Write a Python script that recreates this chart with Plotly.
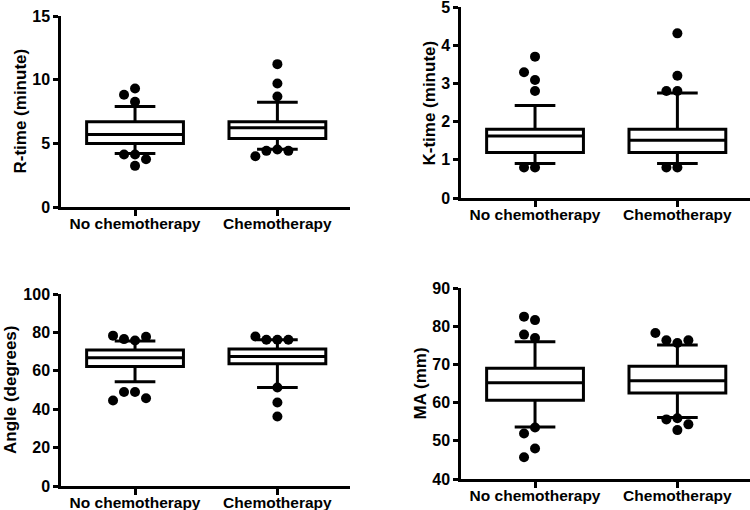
import math
import plotly.graph_objects as go

W, H = 750, 510

groups = ["No chemotherapy", "Chemotherapy"]

# R-time (minute)
r_q1 = [4.98, 5.38]
r_med = [5.69, 6.22]
r_q3 = [6.69, 6.69]
r_lo = [4.20, 4.54]
r_hi = [7.89, 8.23]
r_out_no = [8.81, 9.31, 8.26, 4.12, 3.75, 4.12, 3.23]
r_out_ch = [11.22, 9.70, 8.68, 4.41, 3.99, 4.41, 4.51]

# K-time (minute)
k_q1 = [1.19, 1.19]
k_med = [1.62, 1.51]
k_q3 = [1.80, 1.80]
k_lo = [0.90, 0.90]
k_hi = [2.42, 2.75]
k_out_no = [3.70, 3.29, 3.09, 2.80, 0.80, 0.80]
k_out_ch = [4.31, 3.20, 2.80, 2.80, 0.80, 0.80]

# Angle (degrees)
a_q1 = [62.3, 63.7]
a_med = [66.8, 67.5]
a_q3 = [70.8, 71.3]
a_lo = [54.3, 51.3]
a_hi = [75.5, 76.2]
a_out_no = [78.3, 76.5, 75.8, 77.7, 49.0, 49.0, 44.5, 45.7]
a_out_ch = [77.9, 76.2, 76.2, 76.2, 51.3, 43.5, 36.2]

# MA (mm)
m_q1 = [60.6, 62.5]
m_med = [65.2, 65.7]
m_q3 = [69.0, 69.5]
m_lo = [53.6, 56.1]
m_hi = [75.9, 75.1]
m_out_no = [82.5, 81.6, 76.9, 77.8, 53.5, 51.9, 48.0, 45.7]
m_out_ch = [78.2, 76.3, 75.6, 76.3, 55.6, 52.8, 54.3, 55.9]

# y tick values per panel
r_ticks = [0, 5, 10, 15]
k_ticks = [0, 1, 2, 3, 4, 5]
a_ticks = [0, 20, 40, 60, 80, 100]
m_ticks = [40, 50, 60, 70, 80, 90]

FONT = "Liberation Sans"
XR = [-0.52, 1.51]

panels = [
    dict(px=(61, 350), py=(16, 207), yr=[0, 15], ticks=r_ticks, title="R-time (minute)", tx=20,
         stats=(r_q1, r_med, r_q3, r_lo, r_hi), outs=(r_out_no, r_out_ch)),
    dict(px=(461, 750), py=(7, 198), yr=[0, 5], ticks=k_ticks, title="K-time (minute)", tx=429,
         stats=(k_q1, k_med, k_q3, k_lo, k_hi), outs=(k_out_no, k_out_ch)),
    dict(px=(61, 350), py=(294, 486), yr=[0, 100], ticks=a_ticks, title="Angle (degrees)", tx=10,
         stats=(a_q1, a_med, a_q3, a_lo, a_hi), outs=(a_out_no, a_out_ch)),
    dict(px=(461, 750), py=(288, 479), yr=[40, 90], ticks=m_ticks, title="MA (mm)", tx=420,
         stats=(m_q1, m_med, m_q3, m_lo, m_hi), outs=(m_out_no, m_out_ch)),
]


def dodge(values, med, ppu_y, step_px=11.0, diam=10.0):
    """Greedy side-by-side placement of points that would overlap (pixel offsets)."""
    upper = sorted([v for v in values if v >= med])
    lower = sorted([v for v in values if v < med], reverse=True)
    placed = []
    slots = [0, -1, 1, -2, 2, -3, 3]
    for v in upper + lower:
        for s in slots:
            ox = s * step_px
            if all(math.hypot(ox - pox, (v - pv) * ppu_y) >= diam - 0.01 for pv, pox in placed):
                placed.append((v, ox))
                break
    return placed


fig = go.Figure()
layout = dict(width=W, height=H, margin=dict(l=0, r=0, t=0, b=0, autoexpand=False),
              paper_bgcolor="white", plot_bgcolor="white", showlegend=False,
              annotations=[])

for i, p in enumerate(panels, start=1):
    xa = "x" if i == 1 else f"x{i}"
    ya = "y" if i == 1 else f"y{i}"
    x0, x1 = p["px"]
    yt, yb = p["py"]
    q1, med, q3, lo, hi = p["stats"]
    fig.add_trace(go.Box(
        x=[0, 1], q1=q1, median=med, q3=q3, lowerfence=lo, upperfence=hi,
        width=0.68, whiskerwidth=0.42, fillcolor="white",
        line=dict(color="black", width=3), boxpoints=False,
        xaxis=xa, yaxis=ya, hoverinfo="skip"))
    ppu_x = (x1 - x0) / (XR[1] - XR[0])
    ppu_y = (yb - yt) / (p["yr"][1] - p["yr"][0])
    xs, ys = [], []
    for gi, vals in enumerate(p["outs"]):
        for v, ox in dodge(vals, med[gi], ppu_y):
            xs.append(gi + ox / ppu_x)
            ys.append(v)
    fig.add_trace(go.Scatter(x=xs, y=ys, mode="markers",
                             marker=dict(color="black", size=10),
                             xaxis=xa, yaxis=ya, hoverinfo="skip"))
    axx = dict(domain=[x0 / W, x1 / W], range=XR, anchor=ya, automargin=False,
               tickmode="array", tickvals=[0, 1],
               ticktext=[f"<b>{g}</b>" for g in groups],
               showline=True, linecolor="black", linewidth=2.5,
               ticks="outside", ticklen=6, tickwidth=2.5, tickcolor="black",
               ticklabelstandoff=-5, ticklabeloverflow="allow",
               showgrid=False, zeroline=False,
               tickfont=dict(family=FONT, size=15.5, color="black"))
    axy = dict(domain=[1 - yb / H, 1 - yt / H], range=p["yr"], anchor=xa, automargin=False,
               tickmode="array", tickvals=p["ticks"],
               ticktext=[f"<b>{t}</b>" for t in p["ticks"]],
               showline=True, linecolor="black", linewidth=2.5,
               ticks="outside", ticklen=5, tickwidth=2.5, tickcolor="black",
               ticklabeloverflow="allow",
               showgrid=False, zeroline=False,
               tickfont=dict(family=FONT, size=16, color="black"))
    layout["xaxis" if i == 1 else f"xaxis{i}"] = axx
    layout["yaxis" if i == 1 else f"yaxis{i}"] = axy
    layout["annotations"].append(dict(
        text=f"<b>{p['title']}</b>", textangle=-90, xref="paper", yref="paper",
        x=p["tx"] / W, y=1 - ((yt + yb) / 2) / H, xanchor="center", yanchor="middle",
        showarrow=False, font=dict(family=FONT, size=17, color="black")))

fig.update_layout(**layout)
fig.write_html("out.html", config={"displayModeBar": False},
               post_script="document.body.style.margin='0';document.body.style.overflow='hidden';")
